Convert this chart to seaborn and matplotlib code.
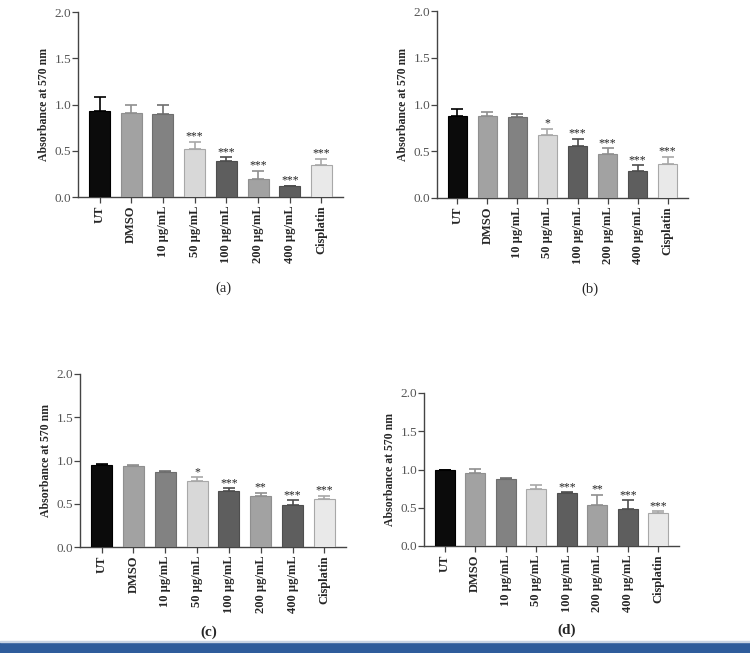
import numpy as np
import pandas as pd
import matplotlib
matplotlib.use('Agg')
import matplotlib.pyplot as plt
import seaborn as sns

# groups on the x axis (same for all four panels)
categories = ['UT', 'DMSO', '10 µg/mL', '50 µg/mL', '100 µg/mL',
              '200 µg/mL', '400 µg/mL', 'Cisplatin']

# panel (a)
mean_a = [0.93, 0.91, 0.90, 0.52, 0.39, 0.20, 0.12, 0.35]
err_a = [0.15, 0.09, 0.09, 0.08, 0.04, 0.08, 0.0, 0.065]
stars_a = ['', '', '', '***', '***', '***', '***', '***']

# panel (b)
mean_b = [0.88, 0.88, 0.87, 0.67, 0.56, 0.47, 0.29, 0.36]
err_b = [0.07, 0.04, 0.03, 0.07, 0.07, 0.06, 0.06, 0.08]
stars_b = ['', '', '', '*', '***', '***', '***', '***']

# panel (c)
mean_c = [0.95, 0.94, 0.87, 0.76, 0.65, 0.585, 0.485, 0.56]
err_c = [0.015, 0.005, 0.008, 0.045, 0.03, 0.04, 0.055, 0.03]
stars_c = ['', '', '', '*', '***', '**', '***', '***']

# panel (d)
mean_d = [0.99, 0.95, 0.875, 0.75, 0.69, 0.54, 0.49, 0.425]
err_d = [0.01, 0.06, 0.008, 0.045, 0.012, 0.13, 0.11, 0.03]
stars_d = ['', '', '', '', '***', '**', '***', '***']

panel_names = ['(a)', '(b)', '(c)', '(d)']

bar_colors = ['#0b0b0b', '#a2a2a2', '#828282', '#d8d8d8',
              '#5e5e5e', '#a2a2a2', '#5e5e5e', '#e9e9e9']
edge_colors = ['#000000', '#8f8f8f', '#6e6e6e', '#a8a8a8',
               '#4e4e4e', '#8f8f8f', '#4e4e4e', '#a8a8a8']

sns.set_style('ticks')
plt.rcParams['font.family'] = ['Liberation Serif', 'DejaVu Serif']

W, H = 750, 653
fig = plt.figure(figsize=(W / 100, H / 100), dpi=100)

# axes boxes in pixels: left, right, top (y=2.0), bottom (y=0), caption x, caption y
boxes = [
    (78, 343, 12, 197, 223, 288),
    (437, 688, 11, 198, 590, 289),
    (80, 346, 374, 547, 209, 632),
    (424, 679, 393, 546, 567, 630),
]

panels = [
    (mean_a, err_a, stars_a),
    (mean_b, err_b, stars_b),
    (mean_c, err_c, stars_c),
    (mean_d, err_d, stars_d),
]

for i, ((means, errs, stars), box) in enumerate(zip(panels, boxes)):
    l, r, t, b, cx, cy = box
    ax = fig.add_axes([l / W, 1 - b / H, (r - l) / W, (b - t) / H])

    df = pd.DataFrame({'group': categories, 'absorbance': means})
    sns.barplot(data=df, x='group', y='absorbance', hue='group',
                palette=dict(zip(categories, bar_colors)), order=categories,
                width=0.66, legend=False, ax=ax, zorder=3)
    for patch, ec in zip(ax.patches, edge_colors):
        patch.set_edgecolor(ec)
        patch.set_linewidth(0.8)

    xs = np.arange(len(categories))
    for x, m, e, c in zip(xs, means, errs, edge_colors):
        ax.errorbar(x, m, yerr=[[0], [e]], fmt='none', ecolor=c,
                    elinewidth=1.2, capsize=4, capthick=1.2, zorder=2)
    for x, m, e, s in zip(xs, means, errs, stars):
        if s:
            ax.text(x, m + e + 0.025, s, ha='center', va='baseline',
                    fontsize=8.5, color='#222222')

    ax.set_ylim(0, 2.0)
    ax.set_xlim(-0.68, len(categories) - 0.32)
    ax.set_yticks([0.0, 0.5, 1.0, 1.5, 2.0])
    ax.set_yticklabels(['0.0', '0.5', '1.0', '1.5', '2.0'])
    ax.set_xticks(xs)
    ax.set_xticklabels(categories, rotation=90, fontweight='bold', fontsize=9)
    ax.tick_params(axis='y', labelsize=9.5, labelcolor='#555555',
                   color='#444444', length=4, width=0.9, pad=1)
    ax.tick_params(axis='x', color='#444444', length=4, width=0.9, pad=2)
    ax.set_xlabel('')
    ax.set_ylabel('Absorbance at 570 nm', fontweight='bold', fontsize=8.5,
                  labelpad=3)
    sns.despine(ax=ax)
    for sp in ['left', 'bottom']:
        ax.spines[sp].set_color('#444444')
        ax.spines[sp].set_linewidth(1.0)

    bold = i >= 2
    fig.text(cx / W, 1 - cy / H, panel_names[i], ha='center', va='center',
             fontsize=11 if bold else 10.5,
             fontweight='bold' if bold else 'normal')

# blue band along the bottom edge
fig.add_artist(plt.Rectangle((0, 0), 1, 11 / H, transform=fig.transFigure,
                             color='#2f5c9b', zorder=0))
fig.add_artist(plt.Rectangle((0, 11 / H), 1, 1.5 / H, transform=fig.transFigure,
                             color='#c9d4e4', zorder=0))

fig.savefig('out.png', dpi=100)
